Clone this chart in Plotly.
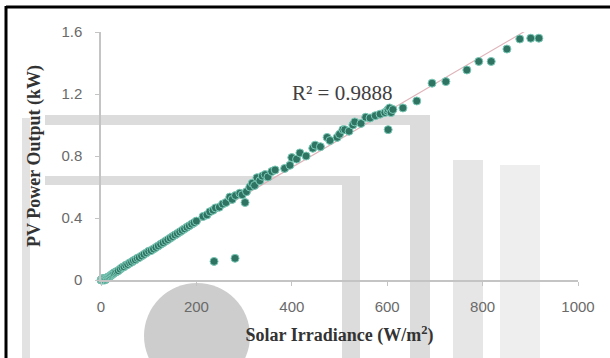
import numpy as np
import plotly.graph_objects as go

# Solar irradiance (W/m^2) and PV power output (kW)
irradiance = [0, 1, 2, 3, 4, 5, 6, 7, 8, 9, 10, 12, 13, 15, 17, 19, 21, 23, 25, 27,
              30, 33, 36, 40, 44, 48, 52, 56, 60, 64, 68, 72, 76, 80, 85, 90, 95, 100,
              105, 110, 115, 120, 125, 130, 135, 140, 145, 150, 155, 160, 165, 170,
              175, 180, 185, 190, 195, 200,
              214, 222, 228, 235, 240, 248, 255, 262, 270, 275, 282, 291, 296, 302,
              305, 312, 317, 322, 327, 333, 338, 344, 350, 358, 365, 385, 396, 400,
              410, 417, 430, 444, 449, 460, 474, 480, 495, 500, 507, 511, 520, 528,
              532, 545, 555, 564, 575, 585, 595, 600, 602, 605, 608, 612, 602, 633,
              662, 694, 723, 767, 792, 818, 851, 878, 901, 918,
              237, 281]
power_kw = [0.0, 0.0, 0.005, 0.0, 0.01, 0.0, 0.005, 0.01, 0.0, 0.01, 0.005, 0.01, 0.015, 0.02, 0.02, 0.025, 0.03, 0.035, 0.04, 0.045,
            0.05, 0.055, 0.06, 0.07, 0.08, 0.085, 0.095, 0.1, 0.11, 0.115, 0.125, 0.13, 0.14, 0.145, 0.155, 0.165, 0.175, 0.185,
            0.19, 0.2, 0.21, 0.22, 0.23, 0.24, 0.25, 0.26, 0.27, 0.28, 0.29, 0.3, 0.31, 0.32,
            0.33, 0.34, 0.35, 0.36, 0.37, 0.38,
            0.41, 0.42, 0.44, 0.45, 0.465, 0.47, 0.49, 0.5, 0.535, 0.52, 0.545, 0.56, 0.55, 0.5,
            0.57, 0.6, 0.625, 0.61, 0.66, 0.64, 0.67, 0.68, 0.665, 0.7, 0.71, 0.72, 0.74, 0.79,
            0.78, 0.82, 0.8, 0.85, 0.87, 0.86, 0.92, 0.9, 0.92, 0.94, 0.97, 0.97, 0.96, 1.0,
            1.02, 1.01, 1.05, 1.045, 1.06, 1.07, 1.08, 1.09, 1.1, 1.11, 1.08, 1.1, 0.97, 1.11,
            1.155, 1.27, 1.28, 1.355, 1.41, 1.41, 1.49, 1.555, 1.56, 1.56,
            0.12, 0.14]

x_ticks = [0, 200, 400, 600, 800, 1000]
y_ticks = [0, 0.4, 0.8, 1.2, 1.6]
y_tick_labels = ["0", "0.4", "0.8", "1.2", "1.6"]
r2_label = "R² = 0.9888"

# linear trendline fitted to the data
xs = np.array(irradiance, dtype=float)
ys = np.array(power_kw, dtype=float)
slope, intercept = np.polyfit(xs, ys, 1)
trend_x = [xs.min(), xs.max()]
trend_y = [slope * v + intercept for v in trend_x]

# plot area in pixels
L, R, T, B = 101, 578, 32, 280
W, H = 610, 358

def px(x):
    return (x - L) / (R - L)

def py(y):
    return (B - y) / (B - T)

fig = go.Figure()
fig.add_trace(go.Scatter(x=trend_x, y=trend_y, mode="lines",
                         line=dict(color="#dfb3ba", width=1.2),
                         hoverinfo="skip", showlegend=False, cliponaxis=False))
fig.add_trace(go.Scatter(x=irradiance, y=power_kw, mode="markers",
                         marker=dict(size=8, color="#2f7362",
                                     line=dict(color="#7ccab8", width=1)),
                         showlegend=False, cliponaxis=False))

wm = "#dcdcdc"
shapes = []
def rect(x0, y0, x1, y1, color):
    shapes.append(dict(type="rect", xref="paper", yref="paper",
                       x0=px(x0), x1=px(x1), y0=py(y1), y1=py(y0),
                       fillcolor=color, line=dict(width=0), layer="below"))

# watermark-like background bands
rect(45, 115, 428, 125, wm)
rect(410, 115, 430, 358, wm)
rect(45, 176, 358, 185, wm)
rect(342, 176, 360, 358, wm)
rect(22, 118, 30, 358, "#e2e2e2")
rect(453, 160, 483, 358, "#e6e6e6")
rect(500, 165, 540, 358, "#eeeeee")
shapes.append(dict(type="circle", xref="paper", yref="paper",
                   x0=px(144), x1=px(250), y0=py(389), y1=py(283),
                   fillcolor="#cdcdcd", line=dict(width=0), layer="below"))
# frame lines
shapes.append(dict(type="line", xref="paper", yref="paper",
                   x0=px(6), x1=px(612), y0=py(7), y1=py(7),
                   line=dict(color="black", width=3)))
shapes.append(dict(type="line", xref="paper", yref="paper",
                   x0=px(6), x1=px(6), y0=py(6), y1=py(360),
                   line=dict(color="black", width=3)))

fig.update_layout(
    width=W, height=H,
    margin=dict(l=L, r=W - R, t=T, b=H - B),
    paper_bgcolor="white", plot_bgcolor="rgba(0,0,0,0)",
    shapes=shapes,
    annotations=[dict(text=r2_label, xref="paper", yref="paper",
                      x=px(342), y=py(79), showarrow=False,
                      font=dict(family="Liberation Serif", size=21, color="#404040"))],
    xaxis=dict(range=[0, 1000], tickvals=x_ticks, showgrid=False, zeroline=False,
               showline=True, linecolor="#c4c4c4", linewidth=1.5,
               ticks="outside", ticklen=4, tickcolor="#c4c4c4",
               ticklabelstandoff=8,
               tickfont=dict(family="Liberation Sans", size=15, color="#6a6a6a"),
               title=dict(text="<b>Solar Irradiance (W/m<sup>2</sup>)</b>", standoff=15,
                          font=dict(family="Liberation Serif", size=18, color="#333333"))),
    yaxis=dict(range=[0, 1.6], tickvals=y_ticks, ticktext=y_tick_labels,
               showgrid=False, zeroline=False,
               showline=True, linecolor="#c4c4c4", linewidth=1.5,
               ticks="outside", ticklen=4, tickcolor="#c4c4c4",
               ticklabelstandoff=10,
               tickfont=dict(family="Liberation Sans", size=15, color="#6a6a6a"),
               title=dict(text="<b>PV Power Output (kW)</b>", standoff=16,
                          font=dict(family="Liberation Serif", size=18, color="#333333"))),
)

fig.write_html("out.html")
